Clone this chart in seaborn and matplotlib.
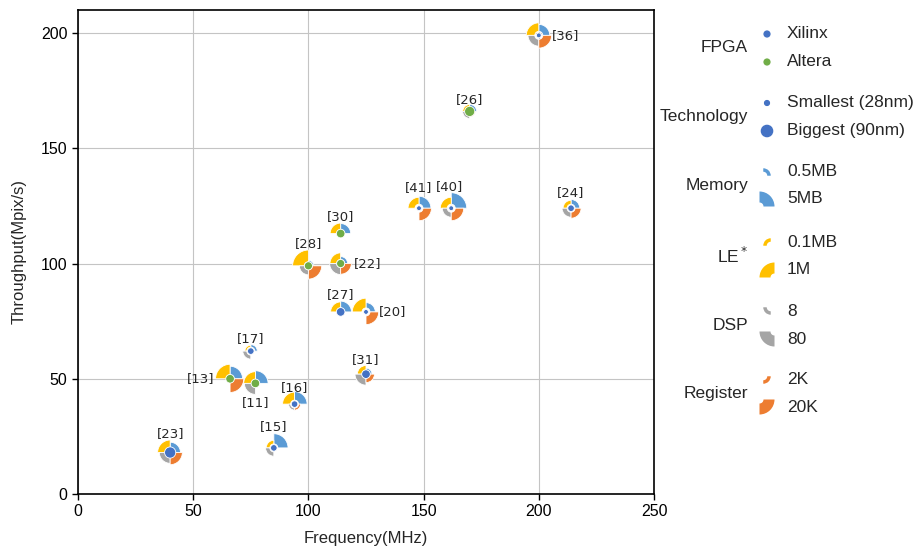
import numpy as np
import pandas as pd
import seaborn as sns
import matplotlib
matplotlib.use("Agg")
import matplotlib.pyplot as plt
from matplotlib.patches import Wedge, Circle
from matplotlib.transforms import ScaledTranslation

# data
refs = ['[36]', '[26]', '[24]', '[41]', '[40]', '[30]', '[28]', '[22]', '[27]',
        '[20]', '[31]', '[17]', '[13]', '[11]', '[16]', '[15]', '[23]']
freq = [200, 170, 214, 148, 162, 114, 100, 114, 114, 125, 125, 75, 66, 77, 94, 85, 40]
thr = [199, 166, 124, 124, 124, 113, 99, 100, 79, 79, 52, 62, 50, 48, 39, 20, 18]
fpga = ['Xilinx', 'Altera', 'Xilinx', 'Xilinx', 'Xilinx', 'Altera', 'Altera', 'Altera', 'Xilinx',
        'Xilinx', 'Xilinx', 'Xilinx', 'Altera', 'Altera', 'Xilinx', 'Xilinx', 'Xilinx']
node_nm = [28, 80, 45, 28, 28, 65, 60, 60, 65, 28, 65, 45, 65, 65, 45, 45, 90]
le_m = [0.60, 0.07, 0.13, 0.40, 0.40, 0.35, 1.15, 0.37, 0.30, 0.78, 0.18, 0.03, 0.91, 0.49, 0.53, 0.11, 0.60]
mem_mb = [2.0, 0.37, 0.92, 2.6, 5.45, 1.5, 0.09, 0.37, 1.9, 1.16, 0.17, 0.26, 3.0, 3.1, 3.0, 4.3, 1.64]
dsp_n = [30.6, 6.0, 16.6, 0, 16.6, 0, 16.6, 32.4, 0, 0, 32.4, 10.6, 0, 32.4, 2.6, 12.2, 30.6]
reg_k = [12.8, 0.37, 6.0, 11.9, 11.9, 0, 14.3, 7.4, 0, 12.5, 3.3, 0, 15.6, 0, 0.66, 0, 11.1]

# label placement (pixels from glyph centre)
label_pos = {'[36]': (13, 0, 'left'), '[22]': (13, 0, 'left'), '[20]': (13, 0, 'left'),
             '[13]': (-16, 0, 'right'), '[11]': (0, -19, 'center'),
             '[26]': (0, 12, 'center'), '[24]': (0, 16, 'center'), '[41]': (0, 21, 'center'),
             '[40]': (-2, 22, 'center'), '[30]': (0, 17, 'center'), '[28]': (0, 22, 'center'),
             '[27]': (0, 17, 'center'), '[31]': (0, 15, 'center'), '[17]': (0, 13, 'center'),
             '[16]': (0, 17, 'center'), '[15]': (0, 21, 'center'), '[23]': (0, 19, 'center')}

c_xil, c_alt = '#4472C4', '#70AD47'
c_le, c_mem, c_dsp, c_reg = '#FFC000', '#5B9BD5', '#A5A5A5', '#ED7D31'
R_IN = 4.0


def rad(v, vmax):
    return R_IN + 11 * np.sqrt(v / vmax)


def dot_r(nm):
    return 2.4 + (nm - 28) / 62 * 3.2


df = pd.DataFrame({'ref': refs, 'freq': freq, 'thr': thr, 'fpga': fpga, 'node': node_nm,
                   'le': le_m, 'mem': mem_mb, 'dsp': dsp_n, 'reg': reg_k})
df['area'] = (2 * dot_r(df['node']) * 0.72) ** 2

sns.set_style('ticks')
plt.rcParams['font.family'] = ['Liberation Sans', 'DejaVu Sans']

W, H = 916, 548
fig = plt.figure(figsize=(W / 100, H / 100), dpi=100)
ax = fig.add_axes([78 / W, 54 / H, 576 / W, 484 / H])
ax.set_xlim(0, 250)
ax.set_ylim(0, 210)
ax.set_xticks(range(0, 251, 50))
ax.set_yticks(range(0, 201, 50))
ax.grid(True, color='#c4c4c4', lw=0.8, zorder=0)
ax.set_axisbelow(True)
for sp in ax.spines.values():
    sp.set_color('black')
    sp.set_linewidth(1.2)
ax.tick_params(labelsize=11.5, length=4, width=1, colors='black')

quads = [('mem', 5, 0, 90, c_mem), ('le', 1, 90, 180, c_le),
         ('dsp', 80, 180, 270, c_dsp), ('reg', 20, 270, 360, c_reg)]

for _, row in df.iterrows():
    tr = fig.dpi_scale_trans + ScaledTranslation(row['freq'], row['thr'], ax.transData)
    for col, vmax, t1, t2, colr in quads:
        v = row[col]
        if v <= 0:
            continue
        r = rad(v, vmax)
        ax.add_patch(Wedge((0, 0), r / 100, t1, t2, width=(r - R_IN) / 100, transform=tr,
                           facecolor=colr, edgecolor='white', lw=0.6, zorder=3))

sns.scatterplot(data=df, x='freq', y='thr', hue='fpga', palette={'Xilinx': c_xil, 'Altera': c_alt},
                size='area', sizes=(df['area'].min(), df['area'].max()),
                size_norm=(df['area'].min(), df['area'].max()),
                edgecolor='white', linewidth=0.6, legend=False, zorder=5, ax=ax)

for _, row in df.iterrows():
    dx, dy, ha = label_pos[row['ref']]
    ax.annotate(row['ref'], (row['freq'], row['thr']), xytext=(dx, dy), textcoords='offset pixels',
                ha=ha, va='center', fontsize=9.5, family='DejaVu Sans', zorder=6)

ax.set_xlabel('Frequency(MHz)', fontsize=12, labelpad=8)
ax.set_ylabel('Throughput(Mpix/s)', fontsize=12, labelpad=10.5)

# custom legend, drawn in figure pixels
def fpx(x, y):
    return x / W, 1 - y / H


def fig_tr(x, y):
    fx, fy = fpx(x, y)
    return fig.dpi_scale_trans + ScaledTranslation(fx, fy, fig.transFigure)


IX, TX, TT = 767, 787, 748
groups = [('FPGA', 34, 62), ('Technology', 103, 131), ('Memory', 172, 199),
          ('LE$^*$', 242, 270), ('DSP', 311, 339), ('Register', 380, 407)]
for title, y1, y2 in groups:
    fig.text(*fpx(TT, (y1 + y2) / 2), title, ha='right', va='center', fontsize=12.5)

# FPGA
for y, c, t in [(34, c_xil, 'Xilinx'), (62, c_alt, 'Altera')]:
    fig.add_artist(Circle((0, 0), 2.9 / 100, transform=fig_tr(IX, y), color=c))
    fig.text(*fpx(TX, y), t, ha='left', va='center', fontsize=12.5)
# Technology
for y, nm, t in [(103, 28, 'Smallest (28nm)'), (131, 90, 'Biggest (90nm)')]:
    fig.add_artist(Circle((0, 0), dot_r(nm) / 100, transform=fig_tr(IX, y), color=c_xil))
    fig.text(*fpx(TX, y), t, ha='left', va='center', fontsize=12.5)

# wedge legends: (row y, value, vmax, quadrant angles, colour, text)
wedge_items = [
    (172, 0.5, 5, 0, 90, c_mem, '0.5MB'), (199, 5, 5, 0, 90, c_mem, '5MB'),
    (242, 0.1, 1, 90, 180, c_le, '0.1MB'), (270, 1, 1, 90, 180, c_le, '1M'),
    (311, 8, 80, 180, 270, c_dsp, '8'), (339, 80, 80, 180, 270, c_dsp, '80'),
    (380, 2, 20, 270, 360, c_reg, '2K'), (407, 20, 20, 270, 360, c_reg, '20K'),
]
for y, v, vmax, t1, t2, c, t in wedge_items:
    r = rad(v, vmax)
    mid = np.deg2rad((t1 + t2) / 2)
    sx, sy = np.sign(np.cos(mid)), np.sign(np.sin(mid))
    cx, cy = IX - sx * r / 2, y + sy * r / 2
    fig.add_artist(Wedge((0, 0), r / 100, t1, t2, width=(r - R_IN) / 100,
                         transform=fig_tr(cx, cy), facecolor=c, edgecolor='none'))
    fig.text(*fpx(TX, y), t, ha='left', va='center', fontsize=12.5)

fig.savefig('out.png', dpi=100)
